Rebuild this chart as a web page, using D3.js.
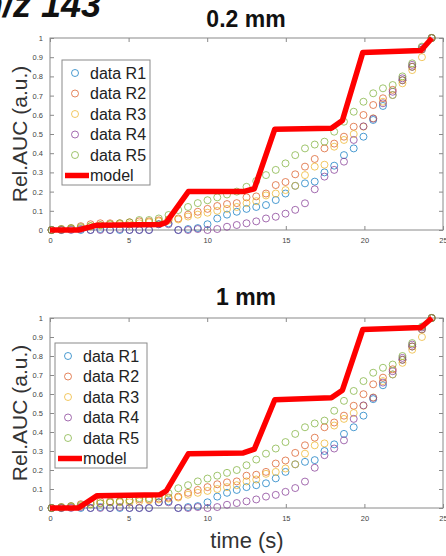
<!DOCTYPE html>
<html>
<head>
<meta charset="utf-8">
<script src="https://cdn.jsdelivr.net/npm/d3@7"></script>
<style>
  body { margin: 0; background: #fff; }
  svg { font-family: "Liberation Sans", Arial, sans-serif; }
</style>
</head>
<body>
<div id="chart"></div>
<script>
// sample times (s), shared by all replicates
const times = [0.10,0.72,1.34,1.96,2.58,3.20,3.82,4.44,5.06,5.68,6.30,6.92,7.54,8.16,8.78,9.40,10.02,10.64,11.26,11.88,
  12.50,13.12,13.74,14.36,14.98,15.60,16.22,16.84,17.46,18.08,18.70,19.32,19.94,20.56,21.18,21.80,22.42,23.04,23.66,24.28];

const r1 = [0,0,0.005,0,0,0.005,0,0,0,0,0,0.03,0.035,0,0.005,0.01,0.03,0.06,0.08,0.095,
  0.11,0.12,0.13,0.156,0.19,0.23,0.243,0.252,0.3,0.335,0.39,0.425,0.486,0.573,0.646,0.703,0.78,0.85,0.94,1.0];
const r2 = [0,0.005,0.01,0.02,0.03,0.035,0.035,0.035,0.04,0.045,0.045,0.05,0.055,0.06,0.08,0.095,0.11,0.125,0.135,0.14,
  0.17,0.175,0.19,0.234,0.25,0.29,0.33,0.37,0.425,0.45,0.486,0.538,0.599,0.651,0.686,0.73,0.78,0.85,0.94,1.0];
const r3 = [0,0,0.005,0.01,0.02,0.025,0.03,0.03,0.03,0.035,0.04,0.045,0.05,0.055,0.07,0.08,0.09,0.1,0.11,0.12,
  0.14,0.15,0.18,0.19,0.208,0.23,0.286,0.33,0.34,0.434,0.469,0.5,0.538,0.582,0.668,0.703,0.764,0.833,0.9,1.0];
const r4 = [0,0,0,0.005,0,0,0,0.005,0,0,0,0.03,0.03,0,0,0.005,0,0.005,0.017,0.026,
  0.035,0.045,0.06,0.069,0.085,0.105,0.139,0.212,0.278,0.313,0.356,0.469,0.54,0.58,0.66,0.72,0.79,0.86,0.95,1.0];
const r5 = [0,0.005,0.01,0.015,0.02,0.025,0.03,0.035,0.04,0.052,0.052,0.06,0.078,0.104,0.12,0.14,0.155,0.17,0.185,0.2,
  0.225,0.255,0.286,0.313,0.347,0.39,0.425,0.445,0.46,0.512,0.564,0.616,0.668,0.712,0.738,0.755,0.8,0.868,0.955,1.0];

// model curves
const modelT = [0,1.8,3.0,7.0,7.4,8.8,12.3,13.0,14.3,17.9,18.6,19.9,23.6,24.3];
const model02 = [0,0,0.025,0.028,0.04,0.2,0.2,0.215,0.525,0.53,0.57,0.925,0.935,1.0];
const model1 = [0,0,0.065,0.07,0.09,0.285,0.29,0.31,0.57,0.58,0.62,0.94,0.95,1.0];

const seriesNames = ["data R1","data R2","data R3","data R4","data R5"];
const seriesColors = ["#0072BD","#D95319","#EDB120","#7E2F8E","#77AC30"];
const xTicks = [0,5,10,15,20,25];
const yTicks = [0,0.1,0.2,0.3,0.4,0.5,0.6,0.7,0.8,0.9,1];

const W = 446, H = 556;
const svg = d3.select("#chart").append("svg")
    .attr("width", W)
    .attr("height", H);

// heading, clipped at the top-left like the source figure
svg.append("text")
    .attr("x", 101)
    .attr("y", 17)
    .attr("text-anchor", "end")
    .attr("font-size", "36px")
    .attr("font-weight", "bold")
    .attr("font-style", "italic")
    .attr("fill", "#111")
    .text("m/z 143");

function panel(title, model, top, bottom, legendBox, titleY) {
    const x = d3.scaleLinear().domain([0, 25]).range([50, 443]);
    const y = d3.scaleLinear().domain([0, 1]).range([bottom, top]);
    const g = svg.append("g");

    // box
    g.append("rect")
        .attr("x", x(0)).attr("y", y(1))
        .attr("width", x(25) - x(0)).attr("height", y(0) - y(1))
        .attr("fill", "#fff").attr("stroke", "#8a8a8a").attr("stroke-width", 1);

    const styleAxis = sel => {
        sel.select(".domain").remove();
        sel.selectAll("line").attr("stroke", "#8a8a8a");
        sel.selectAll("text").attr("fill", "#444").attr("font-size", "7.5px");
    };

    g.append("g")
        .attr("transform", `translate(0,${y(0)})`)
        .call(d3.axisBottom(x).tickValues(xTicks).tickSizeInner(-4).tickSizeOuter(0).tickPadding(8).tickFormat(d3.format("d")))
        .call(styleAxis);
    g.append("g")
        .attr("transform", `translate(0,${y(1)})`)
        .call(d3.axisTop(x).tickValues(xTicks).tickSizeInner(-4).tickSizeOuter(0).tickFormat(""))
        .call(styleAxis);
    g.append("g")
        .attr("transform", `translate(${x(0)},0)`)
        .call(d3.axisLeft(y).tickValues(yTicks).tickSizeInner(-4).tickSizeOuter(0).tickPadding(7).tickFormat(d3.format("~g")))
        .call(styleAxis);
    g.append("g")
        .attr("transform", `translate(${x(25)},0)`)
        .call(d3.axisRight(y).tickValues(yTicks).tickSizeInner(-4).tickSizeOuter(0).tickFormat(""))
        .call(styleAxis);

    // data circles
    [r1, r2, r3, r4, r5].forEach((vals, i) => {
        g.selectAll(null)
            .data(vals.map((v, k) => [times[k], v]))
            .enter()
            .append("circle")
            .attr("cx", d => x(d[0]))
            .attr("cy", d => y(d[1]))
            .attr("r", 3.5)
            .attr("fill", "none")
            .attr("stroke", seriesColors[i])
            .attr("stroke-opacity", 0.7)
            .attr("stroke-width", 1);
    });

    // model
    g.append("path")
        .datum(modelT.map((t, k) => [t, model[k]]))
        .attr("d", d3.line().x(d => x(d[0])).y(d => y(d[1])))
        .attr("fill", "none")
        .attr("stroke", "#ff0000")
        .attr("stroke-width", 5.5)
        .attr("stroke-linejoin", "round");

    // title
    svg.append("text")
        .attr("x", 246)
        .attr("y", titleY)
        .attr("text-anchor", "middle")
        .attr("font-size", "23px")
        .attr("font-weight", "bold")
        .attr("fill", "#111")
        .text(title);

    // y label
    svg.append("text")
        .attr("transform", `translate(27,${(top + bottom) / 2}) rotate(-90)`)
        .attr("text-anchor", "middle")
        .attr("font-size", "21px")
        .attr("fill", "#333")
        .text("Rel.AUC (a.u.)");

    // legend
    const lg = svg.append("g");
    lg.append("rect")
        .attr("x", legendBox.x).attr("y", legendBox.y)
        .attr("width", legendBox.w).attr("height", legendBox.h)
        .attr("fill", "#fff").attr("stroke", "#8a8a8a");
    const rowY = k => legendBox.y + 13 + k * 20.5;
    seriesNames.forEach((name, i) => {
        lg.append("circle")
            .attr("cx", legendBox.x + 13).attr("cy", rowY(i)).attr("r", 3.5)
            .attr("fill", "none").attr("stroke", seriesColors[i]).attr("stroke-opacity", 0.7);
        lg.append("text")
            .attr("x", legendBox.x + 28).attr("y", rowY(i) + 5.5)
            .attr("font-size", "16px").attr("fill", "#222")
            .text(name);
    });
    lg.append("line")
        .attr("x1", legendBox.x + 3).attr("x2", legendBox.x + 27)
        .attr("y1", rowY(5)).attr("y2", rowY(5))
        .attr("stroke", "#ff0000").attr("stroke-width", 5.5);
    lg.append("text")
        .attr("x", legendBox.x + 28).attr("y", rowY(5) + 5.5)
        .attr("font-size", "16px").attr("fill", "#222")
        .text("model");
}

panel("0.2 mm", model02, 38, 230, {x: 62, y: 60, w: 88, h: 125}, 27);
panel("1 mm", model1, 318, 508, {x: 55, y: 343, w: 92, h: 125}, 305);

svg.append("text")
    .attr("x", 247)
    .attr("y", 548)
    .attr("text-anchor", "middle")
    .attr("font-size", "22px")
    .attr("fill", "#333")
    .text("time (s)");
</script>
</body>
</html>
